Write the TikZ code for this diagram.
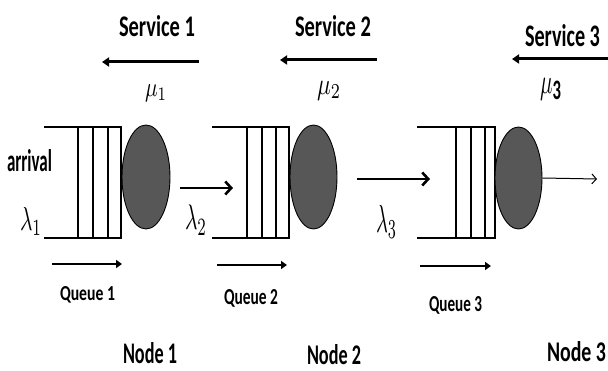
\documentclass[tikz,border=0pt]{standalone}
\usepackage{fontspec}
\usepackage{graphicx}
\newfontfamily\carlito{Carlito}
\usetikzlibrary{arrows.meta,shapes.geometric}
% a label squeezed to a given width and height (above the baseline)
\newcommand{\fitlbl}[3]{\resizebox{#1}{#2}{#3}}
% a formula squeezed to a given width and total height
\newcommand{\fitmath}[3]{\resizebox*{#1}{#2}{#3}}
\definecolor{srvgray}{HTML}{575757}

\begin{document}
\begin{tikzpicture}[x=1pt,y=-1pt,
  lbl/.style={inner sep=0pt, outer sep=0pt, anchor=base west, font=\carlito\bfseries},
  mathlbl/.style={inner sep=0pt, outer sep=0pt, anchor=north west},
  qline/.style={line width=2.2pt},
  server/.style={ellipse, draw=black, line width=0.9pt, fill=srvgray, inner sep=0pt},
  svcarrow/.style={line width=3pt, -{Triangle[length=7pt,width=9pt]}},
  flowarrow/.style={line width=2.8pt, -{Straight Barb[length=6pt,width=13pt,line width=2.6pt]}},
  outarrow/.style={line width=1pt, -{Straight Barb[length=4.5pt,width=10pt,line width=1pt]}},
  qarrow/.style={line width=2.8pt, -{Triangle[length=6pt,width=8pt]}}
]
\useasboundingbox (0,0) rectangle (608,371);

% ---- service rates (top row) ----
\node[lbl] (svc1) at (119,37) {\fitlbl{76pt}{21pt}{Service 1}};
\node[lbl] (svc2) at (295,37) {\fitlbl{76pt}{21pt}{Service 2}};
\node[lbl] (svc3) at (525,47) {\fitlbl{75pt}{22pt}{Service 3}};

\coordinate (s1a) at (199,62); \coordinate (s1b) at (102,62);
\coordinate (s2a) at (377,60); \coordinate (s2b) at (280,60);
\coordinate (s3a) at (608,59); \coordinate (s3b) at (512,59);
\draw[svcarrow] (s1a) -- (s1b);
\draw[svcarrow] (s2a) -- (s2b);
\draw[svcarrow] (s3a) -- (s3b);

\node[mathlbl] (mu1) at (145,85) {\fitmath{22pt}{17pt}{$\mu_1$}};
\node[mathlbl] (mu2) at (317,81) {\fitmath{24pt}{19pt}{$\mu_2$}};
\node[mathlbl] (mu3) at (540,78) {\fitmath{22pt}{22pt}{$\mu_{\mbox{\carlito\bfseries\footnotesize 3}}$}};

% ---- queues: open on the left, three slots ----
\foreach \q/\xa/\xb/\xc/\xd/\xe in {1/44/78/93/108/121, 2/212/247/262/276/289, 3/417/456/471/485/495}{
  \coordinate (q\q tl) at (\xa,127);
  \coordinate (q\q tr) at (\xe,127);
  \coordinate (q\q bl) at (\xa,238);
  \coordinate (q\q br) at (\xe,238);
  \draw[qline] (q\q tl) -- (q\q tr) -- (q\q br) -- (q\q bl);
  \draw[qline] (\xb,127) -- (\xb,238) (\xc,127) -- (\xc,238) (\xd,127) -- (\xd,238);
}

% ---- servers ----
\node[server, minimum width=48pt, minimum height=104pt] (srv1) at (146,177) {};
\node[server, minimum width=47pt, minimum height=104pt] (srv2) at (313.5,177) {};
\node[server, minimum width=47pt, minimum height=102pt] (srv3) at (518.5,178) {};

% ---- flows between nodes ----
\coordinate (f1a) at (180,188); \coordinate (f1b) at (233,188);
\coordinate (f2a) at (357,179); \coordinate (f2b) at (430,179);
\coordinate (out) at (597,179);
\draw[flowarrow] (f1a) -- (f1b);
\draw[flowarrow] (f2a) -- (f2b);
\draw[outarrow] (srv3.east) -- (out);

\node[lbl] (arr) at (7,172) {\fitlbl{45pt}{22pt}{arrival}};
\node[mathlbl] (lam1) at (20,207) {\fitmath{22pt}{28pt}{$\lambda_1$}};
\node[mathlbl] (lam2) at (185,205) {\fitmath{22pt}{30pt}{$\lambda_2$}};
\node[mathlbl] (lam3) at (376,205) {\fitmath{21pt}{33pt}{$\lambda_3$}};

% ---- queue direction arrows and names ----
\coordinate (qa1a) at (52,264);  \coordinate (qa1b) at (122,264);
\coordinate (qa2a) at (217,265); \coordinate (qa2b) at (287,265);
\coordinate (qa3a) at (420,266); \coordinate (qa3b) at (491,266);
\draw[qarrow] (qa1a) -- (qa1b);
\draw[qarrow] (qa2a) -- (qa2b);
\draw[qarrow] (qa3a) -- (qa3b);

\node[lbl] (qn1) at (60,301)  {\fitlbl{55pt}{14pt}{Queue 1}};
\node[lbl] (qn2) at (224,305) {\fitlbl{54pt}{15pt}{Queue 2}};
\node[lbl] (qn3) at (429,312) {\fitlbl{53pt}{15pt}{Queue 3}};

% ---- node names ----
\node[lbl] (nd1) at (123,364) {\fitlbl{54pt}{21pt}{Node 1}};
\node[lbl] (nd2) at (307,365) {\fitlbl{54pt}{20pt}{Node 2}};
\node[lbl] (nd3) at (547,362) {\fitlbl{59pt}{20pt}{Node 3}};
\end{tikzpicture}
\end{document}
